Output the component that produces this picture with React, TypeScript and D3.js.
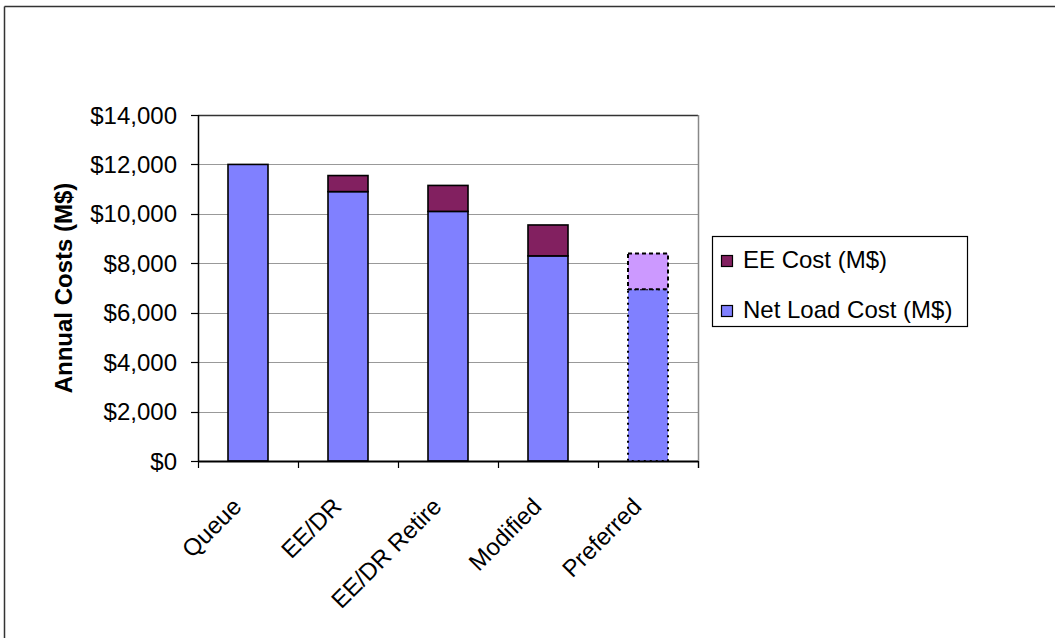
import React, { useEffect, useRef } from 'react';
import * as d3 from 'd3';

// chart values
const categories = ['Queue', 'EE/DR', 'EE/DR Retire', 'Modified', 'Preferred'];
const netLoadCost = [12000, 10900, 10100, 8300, 6950];
const eeCost = [0, 650, 1050, 1250, 1450];
const yTicks = [0, 2000, 4000, 6000, 8000, 10000, 12000, 14000];
const seriesNames = ['EE Cost (M$)', 'Net Load Cost (M$)'];

const W = 1055;
const H = 638;
const FONT = 'Arial, "Liberation Sans", sans-serif';

export default function App() {
  const ref = useRef<SVGSVGElement>(null);

  useEffect(() => {
    const svg = d3.select(ref.current);
    svg.selectAll('*').remove();

    const margin = { left: 198, right: W - 698, top: 115, bottom: H - 461 };

    // outer frame (only top and left edges are visible)
    svg.append('line').attr('x1', 4.5).attr('y1', 6.5).attr('x2', W).attr('y2', 6.5)
      .attr('stroke', '#333').attr('stroke-width', 1.5);
    svg.append('line').attr('x1', 4.5).attr('y1', 6.5).attr('x2', 4.5).attr('y2', H)
      .attr('stroke', '#333').attr('stroke-width', 1.5);

    const x = d3.scaleBand()
      .domain(categories)
      .range([margin.left, W - margin.right])
      .paddingInner(0.6)
      .paddingOuter(0.3);
    const y = d3.scaleLinear().domain([0, 14000]).range([H - margin.bottom, margin.top]);

    // gridlines
    svg.append('g')
      .selectAll('line')
      .data(yTicks.filter((t) => t > 0 && t < 14000))
      .join('line')
      .attr('x1', margin.left)
      .attr('x2', W - margin.right)
      .attr('y1', (d) => Math.round(y(d)) + 0.5)
      .attr('y2', (d) => Math.round(y(d)) + 0.5)
      .attr('stroke', '#999')
      .attr('stroke-width', 1);

    // plot area border: dark top, grey right
    svg.append('line')
      .attr('x1', margin.left).attr('x2', W - margin.right)
      .attr('y1', y(14000) + 0.5).attr('y2', y(14000) + 0.5)
      .attr('stroke', '#333').attr('stroke-width', 1.5);
    svg.append('line')
      .attr('x1', W - margin.right + 0.5).attr('x2', W - margin.right + 0.5)
      .attr('y1', y(14000)).attr('y2', y(0) + 7)
      .attr('stroke', '#888').attr('stroke-width', 1.5);

    // stacked bars
    const rows = categories.map((c, i) => ({ cat: c, net: netLoadCost[i], ee: eeCost[i] }));
    const stack = d3.stack<any>().keys(['net', 'ee']);
    const layers = stack(rows);
    const fills: Record<string, string> = { net: '#8080FF', ee: '#822060' };

    layers.forEach((layer) => {
      svg.append('g')
        .selectAll('rect')
        .data(layer.filter((d) => d[1] - d[0] > 0))
        .join('rect')
        .attr('x', (d) => x(d.data.cat)!)
        .attr('width', x.bandwidth())
        .attr('y', (d) => y(d[1]))
        .attr('height', (d) => y(d[0]) - y(d[1]))
        .attr('fill', (d) =>
          d.data.cat === 'Preferred' && layer.key === 'ee' ? '#CC99FF' : fills[layer.key]
        )
        .attr('stroke', '#000')
        .attr('stroke-width', (d) => (d.data.cat === 'Preferred' ? 2 : 1.6))
        .attr('stroke-dasharray', (d) =>
          d.data.cat === 'Preferred' ? (layer.key === 'ee' ? '4,3' : '2,4') : null
        );
    });

    // y axis
    svg.append('line')
      .attr('x1', margin.left + 0.5).attr('x2', margin.left + 0.5)
      .attr('y1', y(14000)).attr('y2', y(0))
      .attr('stroke', '#000').attr('stroke-width', 1.5);
    const yAxis = svg.append('g');
    yAxis.selectAll('line')
      .data(yTicks)
      .join('line')
      .attr('x1', margin.left - 7).attr('x2', margin.left)
      .attr('y1', (d) => Math.round(y(d)) + 0.5).attr('y2', (d) => Math.round(y(d)) + 0.5)
      .attr('stroke', '#000').attr('stroke-width', 1.2);
    yAxis.selectAll('text')
      .data(yTicks)
      .join('text')
      .attr('x', 177)
      .attr('y', (d) => y(d))
      .attr('dy', '0.36em')
      .attr('text-anchor', 'end')
      .attr('font-family', FONT)
      .attr('font-size', 24)
      .attr('fill', '#000')
      .text((d) => d3.format('$,')(d));

    // y axis title
    svg.append('text')
      .attr('transform', `translate(63,${(y(0) + y(14000)) / 2}) rotate(-90)`)
      .attr('dy', '0.36em')
      .attr('text-anchor', 'middle')
      .attr('font-family', FONT)
      .attr('font-size', 24)
      .attr('font-weight', 'bold')
      .attr('fill', '#000')
      .text('Annual Costs (M$)');

    // x axis
    svg.append('line')
      .attr('x1', margin.left).attr('x2', W - margin.right)
      .attr('y1', y(0) + 0.5).attr('y2', y(0) + 0.5)
      .attr('stroke', '#000').attr('stroke-width', 1.8);
    const step = x.step();
    const bounds = d3.range(categories.length + 1).map((i) => margin.left + i * step);
    svg.append('g')
      .selectAll('line')
      .data(bounds)
      .join('line')
      .attr('x1', (d) => d + 0.5).attr('x2', (d) => d + 0.5)
      .attr('y1', y(0)).attr('y2', y(0) + 7)
      .attr('stroke', '#000').attr('stroke-width', 1.2);
    svg.append('g')
      .selectAll('text')
      .data(categories)
      .join('text')
      .attr('transform', (d) => `translate(${x(d)! + x.bandwidth() / 2 - 5},${y(0) + 47}) rotate(-45)`)
      .attr('text-anchor', 'end')
      .attr('font-family', FONT)
      .attr('font-size', 24)
      .attr('fill', '#000')
      .text((d) => d);

    // legend
    const lg = svg.append('g');
    lg.append('rect')
      .attr('x', 712.5).attr('y', 236.5).attr('width', 255).attr('height', 90)
      .attr('fill', '#fff').attr('stroke', '#000').attr('stroke-width', 1.2);
    const legendFills = ['#822060', '#8080FF'];
    seriesNames.forEach((name, i) => {
      const cy = 261 + i * 50;
      lg.append('rect')
        .attr('x', 721.5).attr('y', cy - 5.5).attr('width', 11).attr('height', 11)
        .attr('fill', legendFills[i]).attr('stroke', '#000').attr('stroke-width', 1.2);
      lg.append('text')
        .attr('x', 743).attr('y', cy - 2)
        .attr('dy', '0.36em')
        .attr('font-family', FONT)
        .attr('font-size', 24)
        .attr('fill', '#000')
        .text(name);
    });
  }, []);

  return (
    <svg
      ref={ref}
      width={W}
      height={H}
      style={{ position: 'absolute', left: 0, top: 0, background: '#fff' }}
    />
  );
}
